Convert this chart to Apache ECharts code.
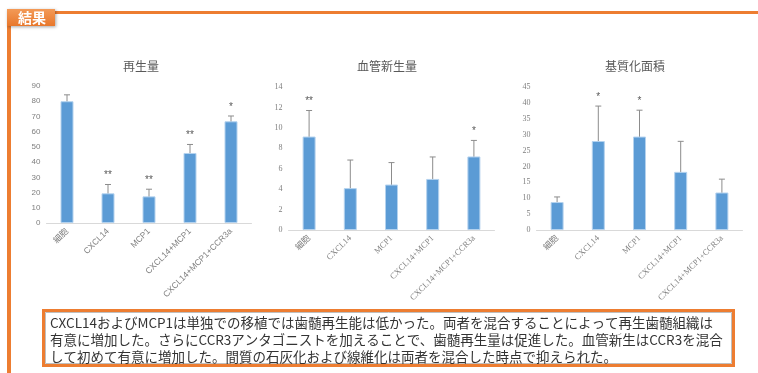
<!DOCTYPE html>
<html><head><meta charset="utf-8">
<script src="https://cdn.jsdelivr.net/npm/echarts@6/dist/echarts.min.js"></script>
<style>html,body{margin:0;padding:0;background:#fff}#c{width:758px;height:373px}</style>
</head><body><div id="c"></div>
<script>
const categories = ['細胞', 'CXCL14', 'MCP1', 'CXCL14+MCP1', 'CXCL14+MCP1+CCR3a'];
const titles = ['再生量', '血管新生量', '基質化面積'];
const regenValues = [80, 19.5, 17.5, 46, 66.8];
const regenSD = [4.2, 5.8, 4.7, 5.6, 3.5];
const regenStars = ['', '**', '**', '**', '*'];
const vesselValues = [9.15, 4.1, 4.45, 5.0, 7.2];
const vesselSD = [2.55, 2.75, 2.15, 2.15, 1.57];
const vesselStars = ['**', '', '', '', '*'];
const matrixValues = [8.8, 28, 29.4, 18.3, 11.8];
const matrixSD = [1.6, 11, 8.3, 9.6, 4.2];
const matrixStars = ['', '*', '*', '', ''];
const yMax = [90, 14, 45];
const yInterval = [10, 2, 5];
const summaryLines = [
  'CXCL14およびMCP1は単独での移植では歯髄再生能は低かった。両者を混合することによって再生歯髄組織は',
  '有意に増加した。さらにCCR3アンタゴニストを加えることで、歯髄再生量は促進した。血管新生はCCR3を混合',
  'して初めて有意に増加した。間質の石灰化および線維化は両者を混合した時点で抑えられた。'
];

const sets = [
  {v: regenValues, sd: regenSD, st: regenStars},
  {v: vesselValues, sd: vesselSD, st: vesselStars},
  {v: matrixValues, sd: matrixSD, st: matrixStars}
];
const grids = [
  {left: 46.5, top: 86, width: 205, height: 137},
  {left: 288.5, top: 87, width: 206, height: 143},
  {left: 536.5, top: 87, width: 206, height: 143}
];
const titleX = [141, 387, 635];
const axisFonts = ['Liberation Sans', 'Liberation Serif', 'Liberation Serif'];

const chart = echarts.init(document.getElementById('c'), null, {renderer: 'canvas'});
const xAxes = [], yAxes = [], series = [];
grids.forEach((g, k) => {
  xAxes.push({
    type: 'category', gridIndex: k, data: categories,
    axisLine: {lineStyle: {color: '#D9D9D9'}}, axisTick: {show: false},
    axisLabel: {interval: 0, rotate: 45, fontSize: 8.5, color: '#7F7F7F', margin: 7,
      fontFamily: axisFonts[k] + ', "Noto Sans CJK JP"'}
  });
  yAxes.push({
    type: 'value', gridIndex: k, min: 0, max: yMax[k], interval: yInterval[k],
    axisLine: {show: false}, axisTick: {show: false}, splitLine: {show: false},
    axisLabel: {fontSize: 8, color: '#7F7F7F', margin: 6, fontFamily: axisFonts[k]}
  });
  const s = sets[k];
  series.push({
    type: 'bar', xAxisIndex: k, yAxisIndex: k, data: s.v, barWidth: 13,
    itemStyle: {color: '#5B9BD5', borderColor: '#B4D2EE', borderWidth: 1},
    silent: true, animation: false
  });
  series.push({
    type: 'custom', xAxisIndex: k, yAxisIndex: k, animation: false, silent: true,
    data: s.v.map((v, i) => [i, v - s.sd[i], v + s.sd[i], s.st[i]]),
    renderItem: function (params, api) {
      const i = api.value(0);
      const lo = api.coord([i, api.value(1)]);
      const hi = api.coord([i, api.value(2)]);
      const cw = 3;
      const st = {stroke: '#8C8C8C', lineWidth: 1};
      const children = [
        {type: 'line', shape: {x1: lo[0], y1: lo[1], x2: hi[0], y2: hi[1]}, style: st},
        {type: 'line', shape: {x1: lo[0] - cw, y1: lo[1], x2: lo[0] + cw, y2: lo[1]}, style: st},
        {type: 'line', shape: {x1: hi[0] - cw, y1: hi[1], x2: hi[0] + cw, y2: hi[1]}, style: st}
      ];
      const star = s.st[params.dataIndex];
      if (star) {
        children.push({type: 'text', style: {text: star, x: hi[0], y: hi[1] - 4,
          align: 'center', verticalAlign: 'bottom', fontSize: 10, fill: '#595959',
          fontFamily: 'Liberation Sans'}});
      }
      return {type: 'group', children: children};
    }
  });
});

const graphics = [
  {type: 'rect', shape: {x: 55, y: 11, width: 703, height: 3}, style: {fill: '#ED7D31'}},
  {type: 'rect', shape: {x: 7, y: 20, width: 4, height: 353}, style: {fill: '#ED7D31'}},
  {type: 'rect', shape: {x: 7, y: 9, width: 48, height: 17},
    style: {fill: new echarts.graphic.LinearGradient(0, 0, 0, 1, [{offset: 0, color: '#F39A57'}, {offset: 1, color: '#E8772B'}]),
      shadowBlur: 3, shadowColor: 'rgba(0,0,0,0.35)', shadowOffsetX: 1, shadowOffsetY: 1}},
  {type: 'text', style: {text: '結果', x: 32, y: 18, align: 'center', verticalAlign: 'middle',
    fontSize: 14, fontWeight: 'bold', fill: '#FFFFFF', fontFamily: '"Noto Sans CJK JP"'}},
  {type: 'rect', shape: {x: 43.5, y: 310.5, width: 690, height: 55},
    style: {fill: '#FFFFFF', stroke: '#ED7D31', lineWidth: 3}},
  {type: 'rect', shape: {x: 45.5, y: 312.5, width: 686, height: 51},
    style: {fill: 'none', stroke: '#BFBFBF', lineWidth: 1}}
];
titles.forEach((t, k) => graphics.push({type: 'text', style: {text: t, x: titleX[k], y: 66,
  align: 'center', verticalAlign: 'middle', fontSize: 12, fill: '#595959', fontFamily: '"Noto Sans CJK JP"'}}));
summaryLines.forEach((line, j) => graphics.push({type: 'text', style: {text: line, x: 50, y: 323 + j * 17,
  align: 'left', verticalAlign: 'middle', fontSize: 13.5, fill: '#333333', fontFamily: '"Noto Sans CJK JP"'}}));

chart.setOption({
  animation: false,
  backgroundColor: '#FFFFFF',
  grid: grids,
  xAxis: xAxes,
  yAxis: yAxes,
  series: series,
  graphic: graphics
});
</script></body></html>
